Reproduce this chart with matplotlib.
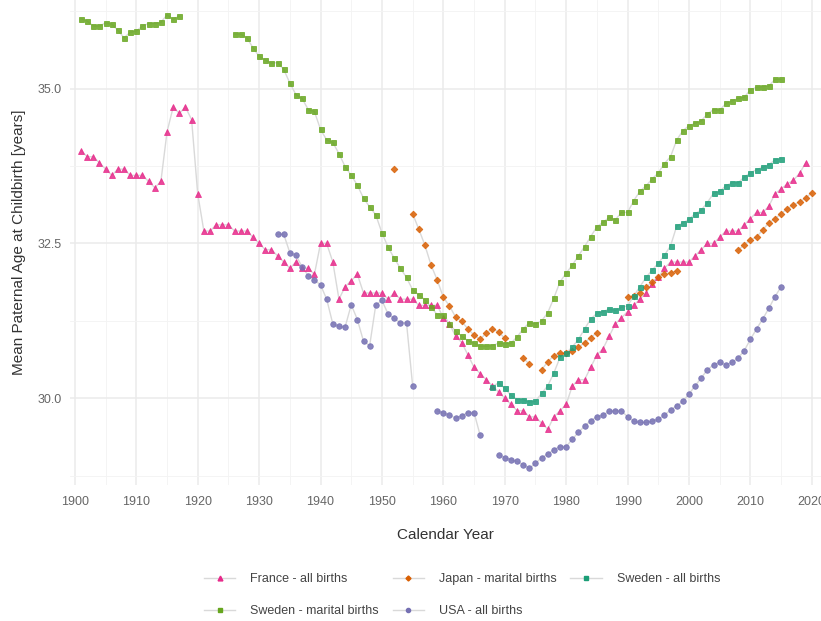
import numpy as np
import matplotlib
matplotlib.use('Agg')
import matplotlib.pyplot as plt
from matplotlib.lines import Line2D

plt.rcParams['font.family'] = ['Liberation Sans', 'DejaVu Sans']

nan = np.nan

# France - all births, 1901-2019
france_years = np.arange(1901, 2020)
france = [
    34.0, 33.9, 33.9, 33.8, 33.7, 33.6, 33.7, 33.7, 33.6, 33.6,
    33.6, 33.5, 33.4, 33.5, 34.3, 34.7, 34.6, 34.7, 34.5, 33.3,
    32.7, 32.7, 32.8, 32.8, 32.8, 32.7, 32.7, 32.7, 32.6, 32.5,
    32.4, 32.4, 32.3, 32.2, 32.1, 32.2, 32.1, 32.1, 32.0, 32.5,
    32.5, 32.2, 31.6, 31.8, 31.9, 32.0, 31.7, 31.7, 31.7, 31.7,
    31.6, 31.7, 31.6, 31.6, 31.6, 31.5, 31.5, 31.5, 31.5, 31.3,
    31.2, 31.0, 30.9, 30.7, 30.5, 30.4, 30.3, 30.2, 30.1, 30.0,
    29.9, 29.8, 29.8, 29.7, 29.7, 29.6, 29.5, 29.7, 29.8, 29.9,
    30.2, 30.3, 30.3, 30.5, 30.7, 30.8, 31.0, 31.2, 31.3, 31.4,
    31.5, 31.6, 31.7, 31.85, 31.95, 32.1, 32.2, 32.2, 32.2, 32.2,
    32.3, 32.4, 32.5, 32.5, 32.6, 32.7, 32.7, 32.7, 32.8, 32.9,
    33.0, 33.0, 33.1, 33.3, 33.38, 33.46, 33.52, 33.63, 33.8,
]

# Japan - marital births, 1952-2020 (nan = no data)
japan_years = np.arange(1952, 2021)
japan = [
    33.70, nan, nan, 32.98, 32.73, 32.47, 32.15, 31.91, 31.63, 31.49,
    31.31, 31.24, 31.12, 31.02, 30.95, 31.06, 31.12, 31.07, 30.97, nan,
    nan, 30.65, 30.55, nan, 30.46, 30.59, 30.69, 30.73, 30.73, 30.76,
    30.82, 30.90, 30.98, 31.06, nan, nan, nan, nan, 31.64, 31.65,
    31.70, 31.79, 31.88, 31.96, 32.01, 32.03, 32.05, nan, nan, nan,
    nan, nan, nan, nan, nan, nan, 32.39, 32.48, 32.56, 32.60,
    32.72, 32.83, 32.90, 32.98, 33.06, 33.12, 33.17, 33.23, 33.32,
]

# Sweden - all births, 1968-2015
sweden_all_years = np.arange(1968, 2016)
sweden_all = [
    30.19, 30.25, 30.16, 30.05, 29.98, 29.98, 29.94, 29.95, 30.08, 30.20,
    30.41, 30.66, 30.73, 30.83, 30.95, 31.12, 31.28, 31.37, 31.40, 31.44,
    31.42, 31.47, 31.49, 31.65, 31.80, 31.95, 32.07, 32.18, 32.31, 32.46,
    32.78, 32.83, 32.89, 32.98, 33.04, 33.16, 33.31, 33.34, 33.43, 33.48,
    33.48, 33.57, 33.64, 33.69, 33.73, 33.77, 33.85, 33.87,
]

# Sweden - marital births, 1901-2015
sweden_mar_years = np.arange(1901, 2016)
sweden_mar = [
    36.13, 36.09, 36.01, 36.01, 36.06, 36.04, 35.94, 35.82, 35.91, 35.93,
    36.01, 36.05, 36.05, 36.07, 36.19, 36.12, 36.17, nan, nan, nan,
    nan, nan, nan, nan, nan, 35.88, 35.88, 35.82, 35.66, 35.52,
    35.46, 35.41, 35.42, 35.31, 35.09, 34.90, 34.84, 34.66, 34.63, 34.34,
    34.17, 34.13, 33.95, 33.74, 33.60, 33.44, 33.23, 33.09, 32.96, 32.67,
    32.44, 32.26, 32.10, 31.95, 31.75, 31.67, 31.59, 31.47, 31.35, 31.35,
    31.20, 31.08, 31.00, 30.93, 30.89, 30.84, 30.84, 30.85, 30.89, 30.88,
    30.89, 30.99, 31.12, 31.22, 31.20, 31.25, 31.38, 31.62, 31.88, 32.02,
    32.15, 32.30, 32.45, 32.61, 32.77, 32.84, 32.92, 32.88, 33.00, 33.00,
    33.19, 33.34, 33.43, 33.54, 33.64, 33.79, 33.90, 34.17, 34.32, 34.40,
    34.44, 34.48, 34.59, 34.66, 34.65, 34.76, 34.80, 34.84, 34.86, 34.98,
    35.02, 35.03, 35.04, 35.15, 35.15,
]

# USA - all births, 1933-2015
usa_years = np.arange(1933, 2016)
usa = [
    32.65, 32.65, 32.35, 32.31, 32.12, 31.98, 31.91, 31.83, 31.60, 31.20,
    31.16, 31.15, 31.51, 31.27, 30.92, 30.85, 31.51, 31.58, 31.36, 31.29,
    31.22, 31.22, 30.20, nan, nan, nan, 29.80, 29.76, 29.73, 29.68,
    29.72, 29.77, 29.77, 29.40, nan, nan, 29.09, 29.04, 29.01, 28.98,
    28.93, 28.87, 28.95, 29.04, 29.10, 29.17, 29.22, 29.22, 29.34, 29.45,
    29.55, 29.64, 29.70, 29.73, 29.79, 29.80, 29.80, 29.70, 29.63, 29.61,
    29.61, 29.63, 29.66, 29.73, 29.81, 29.88, 29.95, 30.07, 30.20, 30.33,
    30.46, 30.54, 30.58, 30.54, 30.58, 30.65, 30.77, 30.95, 31.12, 31.28,
    31.45, 31.64, 31.80,
]

series = [
    ('France - all births', france_years, france, '#E7298A', '^', 4.6),
    ('Japan - marital births', japan_years, japan, '#D95F02', 'D', 3.4),
    ('Sweden - all births', sweden_all_years, sweden_all, '#1B9E77', 's', 3.6),
    ('Sweden - marital births', sweden_mar_years, sweden_mar, '#66A61E', 's', 3.6),
    ('USA - all births', usa_years, usa, '#7570B3', 'o', 4.0),
]

fig = plt.figure(figsize=(8.21, 6.21), dpi=100)
ax = fig.add_axes([70 / 821, 1 - 485 / 621, 751 / 821, 485 / 621])

handles = {}
for label, years, vals, color, marker, ms in series:
    vals = np.array(vals, dtype=float)
    ax.plot(years, vals, color='#d9d9d9', lw=1.0, zorder=2)
    ax.plot(years, vals, ls='none', marker=marker, ms=ms, color=color,
            markeredgecolor=color, markeredgewidth=0.6, alpha=0.85, zorder=3)
    handles[label] = Line2D([], [], color='#d9d9d9', lw=1.0, marker=marker,
                            ms=ms * 0.75, markerfacecolor=color,
                            markeredgecolor=color)

ax.set_xlim(1899.2, 2021.5)
ax.set_ylim(28.6, 36.43)
ax.set_xticks(np.arange(1900, 2021, 10))
ax.set_xticks(np.arange(1905, 2021, 10), minor=True)
ax.set_yticks([30.0, 32.5, 35.0])
ax.set_yticklabels(['30.0', '32.5', '35.0'])
ax.set_yticks([28.75, 31.25, 33.75, 36.25], minor=True)

ax.grid(which='major', color='#ebebeb', lw=1.1, zorder=0)
ax.grid(which='minor', color='#f3f3f3', lw=0.6, zorder=0)
ax.set_axisbelow(True)
for s in ax.spines.values():
    s.set_visible(False)
ax.tick_params(which='both', length=0, labelsize=9, labelcolor='#666666')
ax.tick_params(axis='x', pad=8)
ax.tick_params(axis='y', pad=6)

ax.set_xlabel('Calendar Year', fontsize=11, color='#333333', labelpad=14)
ax.set_ylabel('Mean Paternal Age at Childbirth [years]', fontsize=11,
              color='#333333', labelpad=8)

order = ['France - all births', 'Sweden - marital births',
         'Japan - marital births', 'USA - all births', 'Sweden - all births']
fig.legend([handles[k] for k in order], order, ncol=3, loc='center',
           bbox_to_anchor=(462 / 821, 1 - 595 / 621), frameon=False,
           fontsize=9, labelcolor='#444444', handlelength=2.5,
           columnspacing=1.1, handletextpad=1.2, labelspacing=1.6,
           borderpad=0.2)

fig.savefig('out.png', dpi=100, facecolor='white')
